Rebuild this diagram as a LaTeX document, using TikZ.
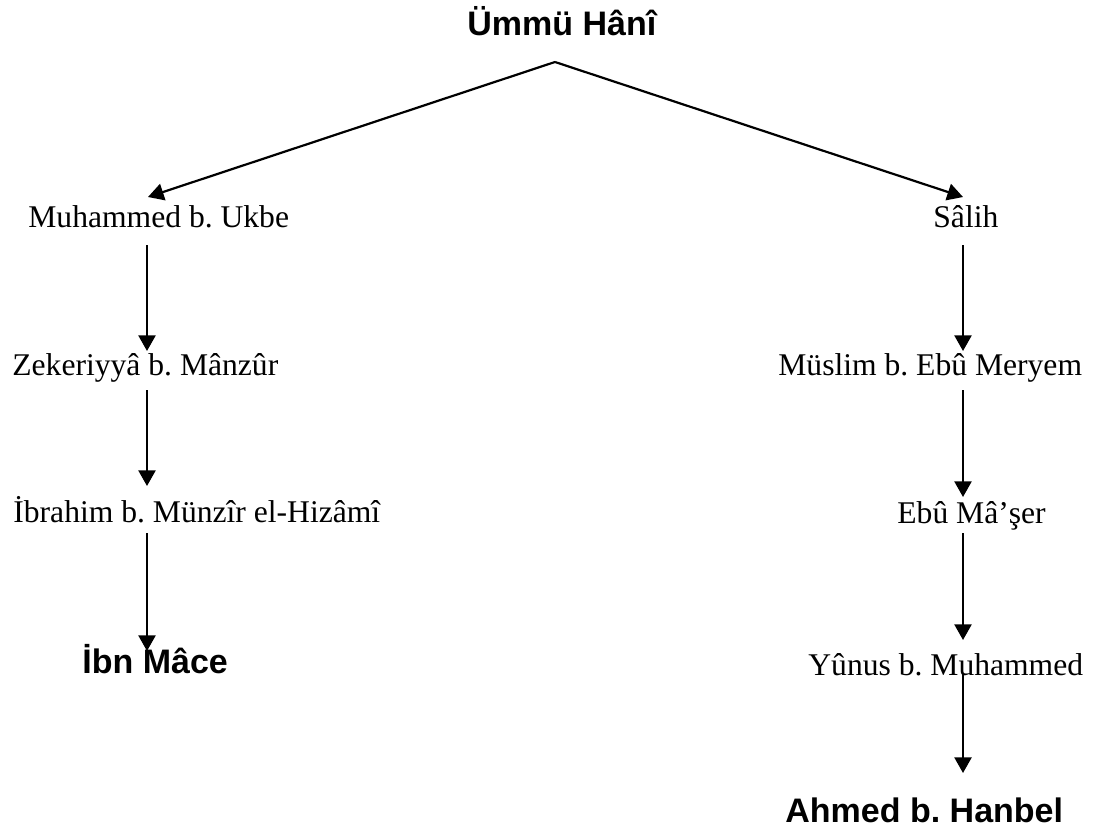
\documentclass[tikz,border=0pt]{standalone}
\usepackage{fontspec}
\setmainfont{Liberation Serif}
\newfontfamily\arialfont{Liberation Sans}
\usetikzlibrary{arrows.meta}
\frenchspacing

\tikzset{
	ravi/.style={anchor=base west, inner sep=0pt, font=\fontsize{15.8}{18}\selectfont},
	kaynak/.style={anchor=base west, inner sep=0pt, font=\arialfont\bfseries\fontsize{17}{20}\selectfont},
	ok/.style={line width=1.1pt, -{Triangle[length=7.8pt,width=8.5pt]}}
}

\begin{document}
\begin{tikzpicture}[x=0.5pt, y=-0.5pt]
	\useasboundingbox (0,0) rectangle (1104,835);

	% isimler
	\node (hani) [kaynak] at (467,35) {Ümmü Hânî};
	\node (ukbe) [ravi] at (28,227) {Muhammed b. Ukbe};
	\node (salih) [ravi] at (933,227) {Sâlih};
	\node (zekeriyya) [ravi] at (12,375) {Zekeriyyâ b. Mânzûr};
	\node (muslim) [ravi] at (778,375) {Müslim b. Ebû Meryem};
	\node (ibrahim) [ravi] at (13,522) {İbrahim b. Münzîr el-Hizâmî};
	\node (ebumaser) [ravi] at (897,523) {Ebû Mâ’şer};
	\node (ibnmace) [kaynak] at (82,673) {İbn Mâce};
	\node (yunus) [ravi] at (808,675) {Yûnus b. Muhammed};
	\node (ahmed) [kaynak] at (785,822) {Ahmed b. Hanbel};

	% ok uçları
	\coordinate (tepe) at (555,62);
	\coordinate (sol0) at (148,197);
	\coordinate (sag0) at (963,197);
	\coordinate (sol1) at (147,245);
	\coordinate (sol2) at (147,351);
	\coordinate (sol3) at (147,390);
	\coordinate (sol4) at (147,486);
	\coordinate (sol5) at (147,533);
	\coordinate (sol6) at (147,651);
	\coordinate (sag1) at (963,245);
	\coordinate (sag2) at (963,351);
	\coordinate (sag3) at (963,390);
	\coordinate (sag4) at (963,497);
	\coordinate (sag5) at (963,533);
	\coordinate (sag6) at (963,640);
	\coordinate (sag7) at (963,673);
	\coordinate (sag8) at (963,773);

	\draw [ok] (tepe) -- (sol0);
	\draw [ok] (tepe) -- (sag0);
	\draw [ok] (sol1) -- (sol2);
	\draw [ok] (sol3) -- (sol4);
	\draw [ok] (sol5) -- (sol6);
	\draw [ok] (sag1) -- (sag2);
	\draw [ok] (sag3) -- (sag4);
	\draw [ok] (sag5) -- (sag6);
	\draw [ok] (sag7) -- (sag8);
\end{tikzpicture}
\end{document}
